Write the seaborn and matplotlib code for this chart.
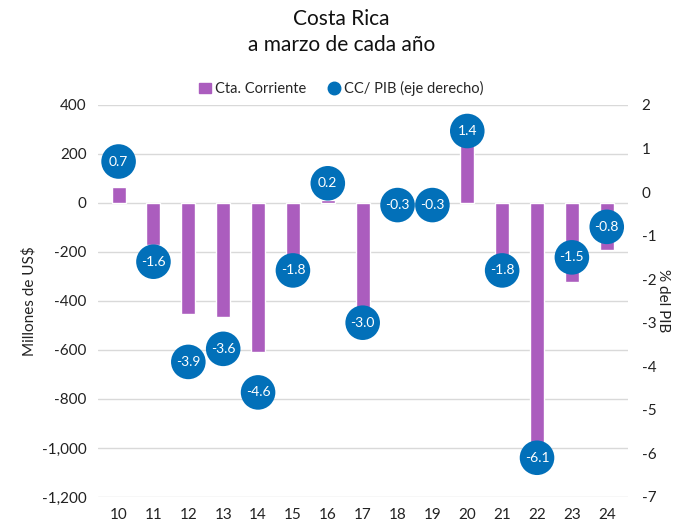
import matplotlib.pyplot as plt
import seaborn as sns
import pandas as pd
from matplotlib.lines import Line2D
from matplotlib.patches import Patch

# Data
years = ["10", "11", "12", "13", "14", "15", "16", "17", "18", "19", "20", "21", "22", "23", "24"]
cta_corriente = [65, -170, -453, -465, -608, -224, 12, -437, -6, -4, 306, -240, -985, -322, -192]
cc_pib = [0.7, -1.6, -3.9, -3.6, -4.6, -1.8, 0.2, -3.0, -0.3, -0.3, 1.4, -1.8, -6.1, -1.5, -0.8]

purple = "#AB5DBE"
blue = "#0270B9"

sns.set_theme(style="white")
plt.rcParams["font.family"] = ["Lato", "DejaVu Sans"]
plt.rcParams["axes.unicode_minus"] = False

df = pd.DataFrame({"year": years, "cc": cta_corriente, "pib": cc_pib})
df["pos"] = range(len(years))

fig = plt.figure(figsize=(6.83, 5.27), dpi=100)
ax = fig.add_axes([0.143, 0.057, 0.776, 0.744])

sns.barplot(data=df, x="year", y="cc", color=purple, width=0.4, saturation=1, ax=ax, zorder=2)
ax.set_ylim(-1200, 400)
ax.set_yticks(range(-1200, 401, 200))
ax.set_yticklabels([f"{v:,}" for v in range(-1200, 401, 200)])
ax.grid(axis="y", color="#D9D9D9", linewidth=1, zorder=0)
ax.set_axisbelow(True)
ax.set_xlabel("")
ax.set_ylabel("Millones de US$", fontsize=11, color="#222222")
ax.tick_params(axis="both", labelsize=11, colors="#222222", length=0, pad=8)
for s in ax.spines.values():
    s.set_visible(False)

# CC/PIB circles on the right-hand axis
ax2 = ax.twinx()
sns.scatterplot(data=df, x="pos", y="pib", s=620, color=blue, edgecolor="none", ax=ax2, zorder=3)
for x, v in zip(df["pos"], df["pib"]):
    ax2.text(x, v, f"{v:.1f}", color="white", ha="center", va="center", fontsize=10, zorder=4)
ax2.set_ylim(-7, 2)
ax2.set_yticks(range(-7, 3))
ax2.set_ylabel("% del PIB", fontsize=11, color="#222222", rotation=270, labelpad=10)
ax2.tick_params(axis="y", labelsize=11, colors="#222222", length=0, pad=10)
for s in ax2.spines.values():
    s.set_visible(False)
ax.set_xlim(-0.6, len(years) - 0.4)

fig.text(0.5, 0.963, "Costa Rica", ha="center", va="center", fontsize=15, color="#111111")
fig.text(0.5, 0.915, "a marzo de cada año", ha="center", va="center", fontsize=15, color="#111111")

handles = [Patch(color=purple, label="Cta. Corriente"),
           Line2D([], [], marker="o", linestyle="", color=blue, markersize=9, label="CC/ PIB (eje derecho)")]
fig.legend(handles=handles, loc="center", bbox_to_anchor=(0.5, 0.832), ncol=2, frameon=False,
           fontsize=10.5, handlelength=0.8, handletextpad=0.3, columnspacing=1.5)

fig.savefig("out.png", dpi=100)
